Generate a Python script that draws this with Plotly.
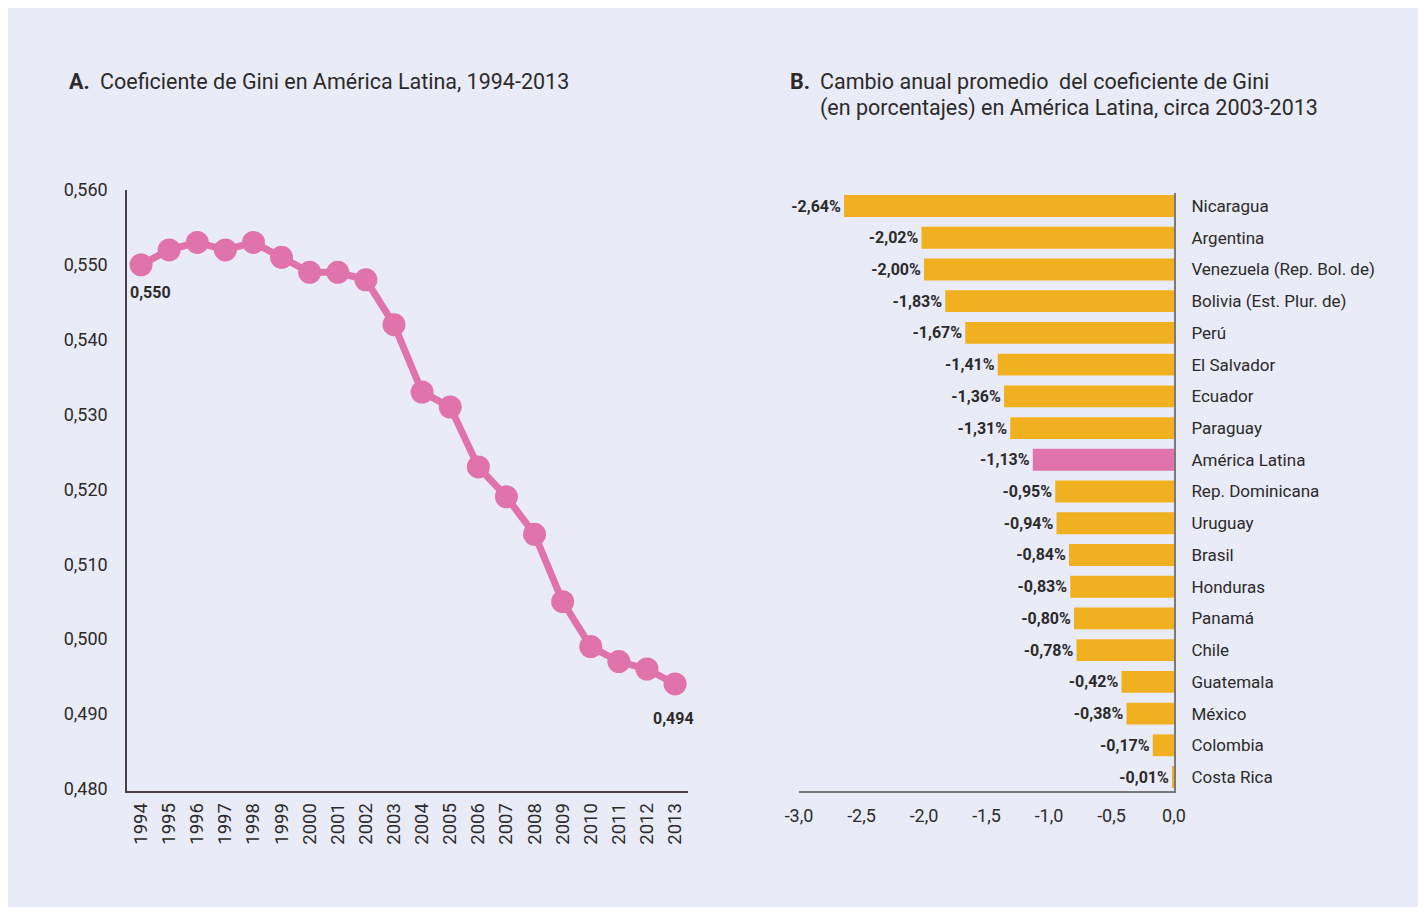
import plotly.graph_objects as go

# The page body has an 8px default margin; size the figure so the page does not overflow.
OFF = 8
W, H = 1426 - OFF, 915 - 2 * OFF

# ---- Data: panel A ----
years = list(range(1994, 2014))
gini = [0.550, 0.552, 0.553, 0.552, 0.553, 0.551, 0.549, 0.549, 0.548, 0.542,
        0.533, 0.531, 0.523, 0.519, 0.514, 0.505, 0.499, 0.497, 0.496, 0.494]
gini_ticks = [0.480, 0.490, 0.500, 0.510, 0.520, 0.530, 0.540, 0.550, 0.560]
gini_tick_text = ["0,480", "0,490", "0,500", "0,510", "0,520", "0,530", "0,540", "0,550", "0,560"]

# ---- Data: panel B ----
countries = ["Nicaragua", "Argentina", "Venezuela (Rep. Bol. de)", "Bolivia (Est. Plur. de)",
             "Perú", "El Salvador", "Ecuador", "Paraguay", "América Latina",
             "Rep. Dominicana", "Uruguay", "Brasil", "Honduras", "Panamá", "Chile",
             "Guatemala", "México", "Colombia", "Costa Rica"]
change = [-2.64, -2.02, -2.00, -1.83, -1.67, -1.41, -1.36, -1.31, -1.13,
          -0.95, -0.94, -0.84, -0.83, -0.80, -0.78, -0.42, -0.38, -0.17, -0.01]
change_ticks = [-3.0, -2.5, -2.0, -1.5, -1.0, -0.5, 0.0]
change_tick_text = ["-3,0", "-2,5", "-2,0", "-1,5", "-1,0", "-0,5", "0,0"]

FONT = "Roboto, DejaVu Sans Condensed, sans-serif"
TXT = "#2d2a2c"
PINK = "#e073ab"
ORANGE = "#f1b01f"
BG = "#e9ecf6"


def px(x):
    return (x - OFF) / W


def py(y):
    return 1 - (y - OFF) / H


fig = go.Figure()

fig.add_trace(go.Scatter(
    x=years, y=gini, mode="lines+markers",
    line=dict(color=PINK, width=7),
    marker=dict(color=PINK, size=23),
    xaxis="x", yaxis="y", cliponaxis=False, showlegend=False,
))

bar_colors = [PINK if c == "América Latina" else ORANGE for c in countries]
bar_text = [("%.2f%%" % v).replace(".", ",") for v in change]
fig.add_trace(go.Bar(
    x=change, y=countries, orientation="h",
    marker=dict(color=bar_colors, line=dict(width=0)),
    width=0.69,
    text=bar_text, textposition="outside",
    textfont=dict(family=FONT, size=16, color=TXT, weight="bold"),
    xaxis="x2", yaxis="y2", cliponaxis=False, showlegend=False,
))

fig.update_layout(
    width=W, height=H,
    margin=dict(l=0, r=0, t=0, b=0, autoexpand=False),
    paper_bgcolor=BG,
    plot_bgcolor="rgba(0,0,0,0)",
    font=dict(family=FONT, color=TXT, size=18),
    xaxis=dict(
        domain=[px(127), px(688)], range=[1993.5, 2013.46], automargin=False,
        tickmode="array", tickvals=years, ticktext=[str(y) for y in years],
        tickangle=-90, showgrid=False, zeroline=False,
        showline=True, linecolor="#4a4045", linewidth=1.5,
        ticks="outside", ticklen=3, tickcolor="rgba(0,0,0,0)",
        tickfont=dict(size=18.5), anchor="y",
    ),
    yaxis=dict(
        domain=[py(791), py(190)], range=[0.4797, 0.560], automargin=False,
        tickmode="array", tickvals=gini_ticks, ticktext=gini_tick_text,
        showgrid=False, zeroline=False,
        showline=True, linecolor="#4a4045", linewidth=1.5,
        ticks="outside", ticklen=14, tickcolor="rgba(0,0,0,0)",
        tickfont=dict(size=18), anchor="x",
    ),
    xaxis2=dict(
        domain=[px(799), px(1174)], range=[-3.0, 0.0], automargin=False,
        tickmode="array", tickvals=change_ticks, ticktext=change_tick_text,
        showgrid=False, zeroline=False,
        showline=True, linecolor="#7a7a7a", linewidth=2,
        ticks="outside", ticklen=7, tickcolor="rgba(0,0,0,0)",
        tickfont=dict(size=18), anchor="y2",
    ),
    yaxis2=dict(
        domain=[py(791), py(193)], range=[18.44, -0.41], automargin=False,
        type="category", side="right",
        showgrid=False, zeroline=False,
        showline=True, linecolor="#7a7a7a", linewidth=2,
        ticks="outside", ticklen=12, tickcolor="rgba(0,0,0,0)",
        tickfont=dict(size=17), anchor="x2",
    ),
    annotations=[
        dict(xref="paper", yref="paper", x=px(67), y=py(81), xanchor="left", yanchor="middle",
             text="<b>A.</b>", showarrow=False, font=dict(size=21.5)),
        dict(xref="paper", yref="paper", x=px(98), y=py(81), xanchor="left", yanchor="middle",
             text="Coeficiente de Gini en América Latina, 1994-2013", showarrow=False,
             font=dict(size=21.5)),
        dict(xref="paper", yref="paper", x=px(788), y=py(81), xanchor="left", yanchor="middle",
             text="<b>B.</b>", showarrow=False, font=dict(size=21.5)),
        dict(xref="paper", yref="paper", x=px(818), y=py(81), xanchor="left", yanchor="middle",
             text="Cambio anual promedio  del coeficiente de Gini", showarrow=False,
             font=dict(size=21.5)),
        dict(xref="paper", yref="paper", x=px(818), y=py(108), xanchor="left", yanchor="middle",
             text="(en porcentajes) en América Latina, circa 2003-2013", showarrow=False,
             font=dict(size=21.5)),
        dict(xref="x", yref="y", x=years[0], y=gini[0], xanchor="center", yanchor="middle",
             xshift=9, yshift=-28, text="<b>%s</b>" % ("%.3f" % gini[0]).replace(".", ","),
             showarrow=False, font=dict(size=16)),
        dict(xref="x", yref="y", x=years[-1], y=gini[-1], xanchor="center", yanchor="middle",
             xshift=-2, yshift=-35, text="<b>%s</b>" % ("%.3f" % gini[-1]).replace(".", ","),
             showarrow=False, font=dict(size=16)),
    ],
)

fig.write_html("out.html")
